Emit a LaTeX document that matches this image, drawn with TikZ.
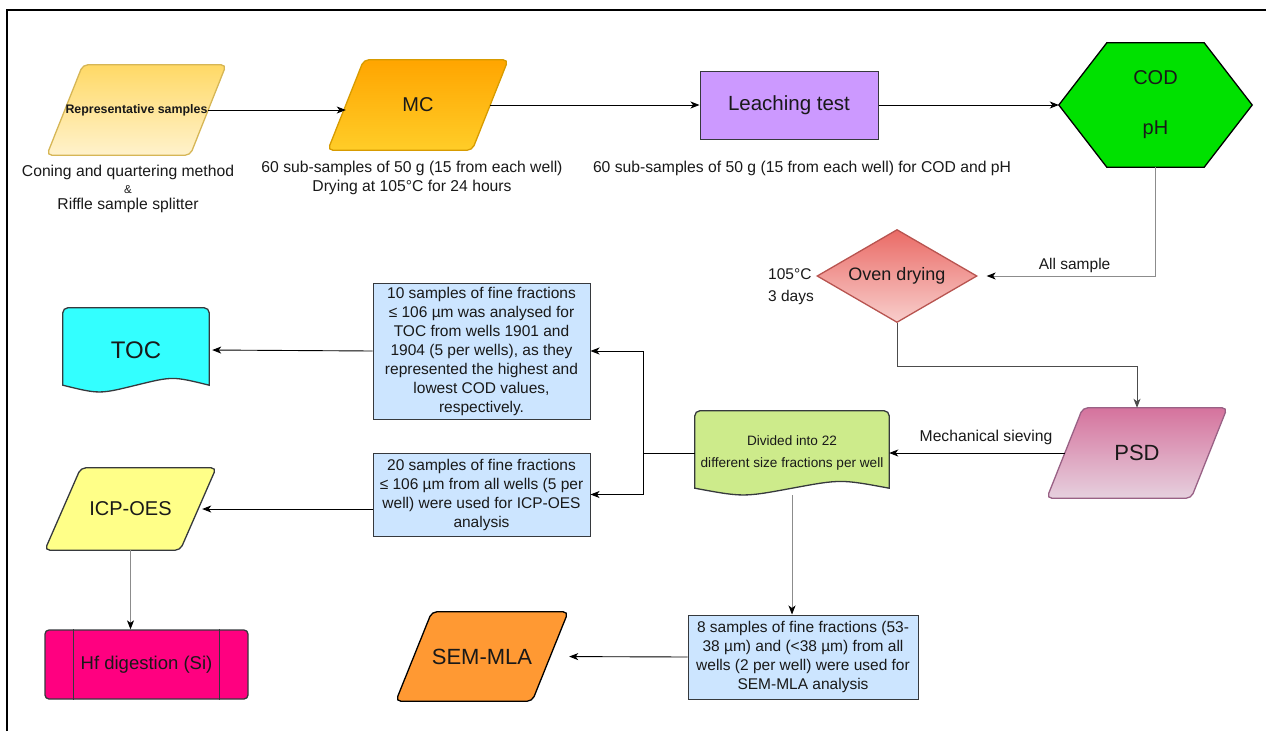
\documentclass[tikz,border=0pt]{standalone}
\usepackage{fontspec}
\setmainfont{Liberation Sans}
\usetikzlibrary{arrows.meta, shapes, calc, positioning, backgrounds}

\definecolor{edgedark}{HTML}{36393D}
\definecolor{repyellow}{HTML}{FFD966}
\definecolor{replight}{HTML}{FFF2CC}
\definecolor{repborder}{HTML}{D6B656}
\definecolor{mcorange}{HTML}{FFA500}
\definecolor{mclight}{HTML}{FFCD28}
\definecolor{mcborder}{HTML}{D79B00}
\definecolor{leachviolet}{HTML}{CC99FF}
\definecolor{codgreen}{HTML}{00E100}
\definecolor{ovenred}{HTML}{EA6B66}
\definecolor{ovenlight}{HTML}{F8CECC}
\definecolor{ovenborder}{HTML}{B85450}
\definecolor{psdpink}{HTML}{D5739D}
\definecolor{psdlight}{HTML}{E6D0DE}
\definecolor{psdborder}{HTML}{996185}
\definecolor{sievegreen}{HTML}{CDEB8B}
\definecolor{noteblue}{HTML}{CCE5FF}
\definecolor{tocaqua}{HTML}{33FFFF}
\definecolor{icpyellow}{HTML}{FFFF88}
\definecolor{hfmagenta}{HTML}{FF0080}
\definecolor{semorange}{HTML}{FF9933}
\definecolor{linkgray}{HTML}{8C8C8C}

% document shape with a wavy bottom
\newcommand{\wavydoc}[3]{%
	\draw[docline, fill=#2, rounded corners=5pt]
		([yshift=7]#1.south west) -- (#1.north west) -- (#1.north east)
		[sharp corners] -- ([yshift=7]#1.south east)
		.. controls ([xshift=-#3, yshift=16]#1.south east) .. ([yshift=7]#1.south)
		.. controls ([xshift=#3, yshift=-2]#1.south west) .. ([yshift=7]#1.south west) -- cycle;%
}
% parallelogram round a node (18 = half of the slant)
\newcommand{\slantpath}[2][]{%
	\draw[docline, rounded corners=5pt, #1]
		([xshift=18]#2.north west) -- ([xshift=18]#2.north east)
		-- ([xshift=-18]#2.south east) -- ([xshift=-18]#2.south west) -- cycle;%
}

\tikzset{
	every node/.style={
		font=\fontsize{15.7}{19}\selectfont,
		text=black!90
	},
	para/.style={
		shape=rectangle,
		minimum width=144,
		minimum height=90,
		inner sep=0pt
	},
	plainbox/.style={
		shape=rectangle,
		draw=edgedark,
		line width=1pt,
		inner sep=0pt,
		align=center
	},
	note/.style={
		plainbox,
		fill=noteblue,
		minimum width=217,
		font=\fontsize{15.5}{19}\selectfont
	},
	docline/.style={
		draw=edgedark,
		line width=1.3pt
	},
	link/.style={
		-{Stealth[length=9pt,width=7pt,inset=2.5pt]},
		line width=0.9pt
	},
	greylink/.style={
		-{Stealth[length=9pt,width=7pt,inset=2.5pt,color=black]},
		line width=0.9pt,
		draw=linkgray
	},
	caption/.style={
		align=center,
		inner sep=0pt
	}
}

\begin{document}
\begin{tikzpicture}[x=1pt, y=-1pt]
	\useasboundingbox (0,0) rectangle (1266,731);
	\draw[line width=1.2pt] (7,731) -- (7,10) -- (1266,10);

	% top row
	\node[para, minimum width=143, font=\fontsize{12.4}{14}\selectfont\bfseries] (rep) at (136.5,110) {Representative samples};
	\node[para, font=\fontsize{20}{24}\selectfont] (mc) at (418,105) {MC};
	\node[plainbox, fill=leachviolet, minimum width=178, minimum height=68,
		font=\fontsize{20.5}{24}\selectfont] (leach) at (789,105) {Leaching test};
	\node[minimum width=193, minimum height=124, inner sep=0pt, align=center,
		font=\fontsize{20}{50}\selectfont] (cod) at (1155.5,105) {COD\\pH};

	\node[caption, font=\fontsize{15.7}{16.5}\selectfont] (replbl) at (128,189)
		{Coning and quartering method\\{\fontsize{11.5}{16.5}\selectfont\&}\\Riffle sample splitter};
	\node[caption, font=\fontsize{15.7}{19}\selectfont] (mclbl) at (412,178)
		{60 sub-samples of 50 g (15 from each well)\\Drying at 105°C for 24 hours};
	\node[caption] (leachlbl) at (802,168) {60 sub-samples of 50 g (15 from each well) for COD and pH};

	% right column
	\node[diamond, aspect=1.7, minimum width=160, minimum height=93, inner sep=0pt,
		top color=ovenred, bottom color=ovenlight, draw=ovenborder, line width=1.3pt,
		font=\fontsize{18}{20}\selectfont] (oven) at (897,276) {Oven drying};
	\node[caption, anchor=west, align=left, font=\fontsize{15.5}{22}\selectfont] (ovenlbl) at (768,287) {105°C\\3 days};
	\node[para, font=\fontsize{22}{26}\selectfont] (psd) at (1137,453) {PSD};
	\node[minimum width=194, minimum height=84, inner sep=0pt, align=center,
		font=\fontsize{13.6}{22}\selectfont] (sieve) at (792,453) {Divided into 22\\different size fractions per well};

	% notes
	\node[note, minimum height=136] (tocnote) at (481.5,351) {10 samples of fine fractions\\≤ 106 µm was analysed for\\TOC from wells 1901 and\\1904 (5 per wells), as they\\represented the highest and\\lowest COD values,\\respectively.};
	\node[note, minimum height=83] (icpnote) at (481.5,494.5) {20 samples of fine fractions\\≤ 106 µm from all wells (5 per\\well) were used for ICP-OES\\analysis};
	\node[note, minimum width=230, minimum height=84] (semnote) at (803,657) {8 samples of fine fractions (53-\\38 µm) and (<38 µm) from all\\wells (2 per well) were used for\\SEM-MLA analysis};

	% analyses
	\node[minimum width=146, minimum height=84, inner sep=0pt,
		font=\fontsize{24}{28}\selectfont] (toc) at (136,350) {TOC};
	\node[para, minimum width=135, minimum height=82, font=\fontsize{20}{24}\selectfont] (icp) at (130.5,509) {ICP-OES};
	\node[plainbox, fill=hfmagenta, minimum width=203, minimum height=69, rounded corners=4pt,
		line width=1.3pt, font=\fontsize{18.5}{22}\selectfont] (hf) at (146.5,664.5) {Hf digestion (Si)};
	\draw[docline] ([xshift=29]hf.north west) -- ([xshift=29]hf.south west);
	\draw[docline] ([xshift=-29]hf.north east) -- ([xshift=-29]hf.south east);
	\node[para, minimum width=136, minimum height=89, font=\fontsize{22}{26}\selectfont] (sem) at (482,656.5) {SEM-MLA};

	\begin{scope}[on background layer]
		\slantpath[top color=repyellow, bottom color=replight, draw=repborder]{rep}
		\slantpath[top color=mcorange, bottom color=mclight, draw=mcborder]{mc}
		\slantpath[top color=psdpink, bottom color=psdlight, draw=psdborder]{psd}
		\slantpath[fill=icpyellow]{icp}
		\slantpath[fill=semorange, draw=black]{sem}
		\draw[docline, draw=black, fill=codgreen] (cod.west) -- ([xshift=48]cod.north west)
			-- ([xshift=-48]cod.north east) -- (cod.east) -- ([xshift=-48]cod.south east)
			-- ([xshift=48]cod.south west) -- cycle;
		\wavydoc{toc}{tocaqua}{36.5}
		\wavydoc{sieve}{sievegreen}{48.5}
	\end{scope}

	% connectors
	\draw[link] (rep.east) -- (rep.east -| mc.west);
	\draw[link] (mc.east) -- (leach.west);
	\draw[link] (leach.east) -- (cod.west);
	\draw[greylink, shorten >=9pt] (cod.south) |- (oven.east)
		node[pos=0.75, above, xshift=8pt, font=\fontsize{15.5}{18}\selectfont] (alllbl) {All sample};
	\draw[link, draw=black!70] (oven.south) -- ++(0,43) -| (psd.north);
	\draw[link] (psd.west) -- (sieve.east) node[midway, above=4pt, xshift=9pt] (sievelbl) {Mechanical sieving};
	\coordinate (split) at (643,453);
	\draw[line width=0.9pt] (sieve.west) -- (split);
	\draw[link] (split) |- (tocnote.east);
	\draw[link] (split) |- (icpnote.east);
	\draw[link, shorten >=3pt] (tocnote.west) -- (toc.east);
	\draw[link, shorten >=4pt] (icpnote.west |- icp.east) -- (icp.east);
	\draw[greylink] (icp.south) -- (icp.south |- hf.north);
	\draw[greylink] (sieve.south) -- (sieve.south |- semnote.north);
	\draw[link, shorten >=19pt] (semnote.west) -- (sem.east);
\end{tikzpicture}
\end{document}
